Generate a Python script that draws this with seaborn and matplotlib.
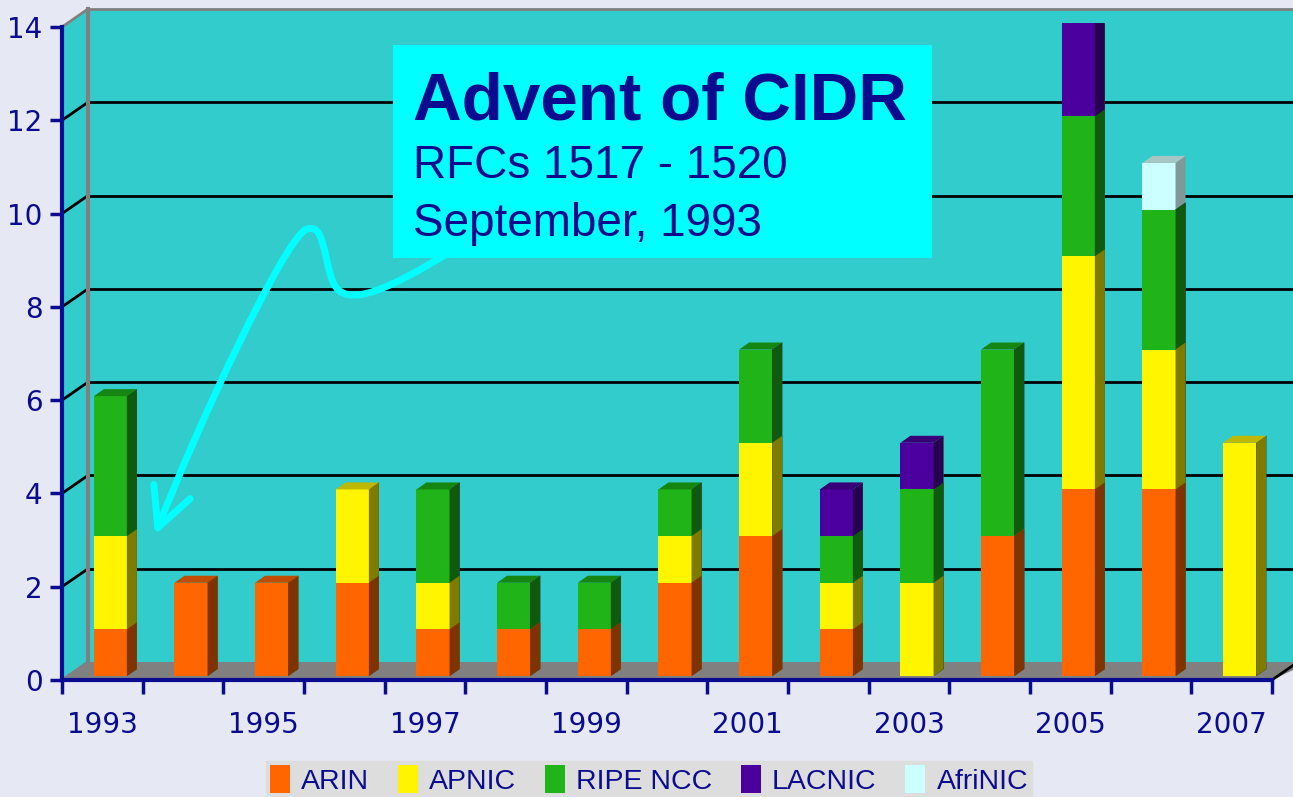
import numpy as np
import pandas as pd
import matplotlib
matplotlib.use("Agg")
import matplotlib.pyplot as plt
import seaborn as sns
from matplotlib.patches import Polygon, Rectangle, FancyArrowPatch, Patch
from matplotlib.path import Path
from matplotlib.lines import Line2D

# --- DATA ---
years = [str(y) for y in range(1993, 2008)]
registries = ["ARIN", "APNIC", "RIPE NCC", "LACNIC", "AfriNIC"]
arin    = [1, 2, 2, 2, 1, 1, 1, 2, 3, 1, 0, 3, 4, 4, 0]
apnic   = [2, 0, 0, 2, 1, 0, 0, 1, 2, 1, 2, 0, 5, 3, 5]
ripe    = [3, 0, 0, 0, 2, 1, 1, 1, 2, 1, 2, 4, 3, 3, 0]
lacnic  = [0, 0, 0, 0, 0, 0, 0, 0, 0, 1, 1, 0, 2, 0, 0]
afrinic = [0, 0, 0, 0, 0, 0, 0, 0, 0, 0, 0, 0, 0, 1, 0]
y_ticks = list(range(0, 15, 2))

# --- STYLE ---
front_col = ["#FF6600", "#FFF500", "#20B418", "#4B009E", "#CCFFFF"]
side_col  = ["#7F3300", "#7F7A00", "#0F5A0C", "#27004F", "#7F9999"]
cap_col   = ["#C04C00", "#BFB800", "#168612", "#380076", "#A6C6C6"]
navy = "#0B0B8F"
wall = "#33CCCC"

sns.set_theme(style="white")
plt.rcParams["font.family"] = ["DejaVu Sans"]

W, H = 1293, 797
fig = plt.figure(figsize=(W / 100, H / 100), dpi=100)
fig.patch.set_facecolor("#E6E9F4")


def px_axes(l, t, r, b):
    return fig.add_axes([l / W, 1 - b / H, (r - l) / W, (b - t) / H])


def fp(x, y):
    return (x / W, 1 - y / H)


# --- 3D frame: side wall, floor ---
fig.add_artist(Polygon([fp(62, 680), fp(62, 27), fp(88, 9), fp(88, 662)],
                       closed=True, facecolor=wall, edgecolor="none",
                       transform=fig.transFigure, zorder=-2))
fig.add_artist(Polygon([fp(62, 680), fp(88, 662), fp(1310, 662), fp(1272, 680)],
                       closed=True, facecolor="#808080", edgecolor="none",
                       transform=fig.transFigure, zorder=-2))
fig.add_artist(Line2D([1272 / W, 1298 / W], [1 - 680 / H, 1 - 662 / H], color="black",
                      lw=2, transform=fig.transFigure, zorder=-1))
for v in y_ticks:
    yf = 680 - v * 653 / 14
    yb = 662 - v * 653 / 14
    c = "black" if 0 < v < 14 else "#808080"
    fig.add_artist(Line2D([62 / W, 88 / W], [1 - yf / H, 1 - yb / H], color=c, lw=2,
                          transform=fig.transFigure, zorder=-1))

# --- back wall ---
ax_back = px_axes(88, 9, 1300, 662)
ax_back.set_facecolor(wall)
ax_back.set_xlim(0, 1)
ax_back.set_ylim(0, 14)
ax_back.set_xticks([])
ax_back.set_yticks(y_ticks[1:-1])
ax_back.yaxis.grid(True, color="black", lw=2)
ax_back.tick_params(length=0, labelleft=False)
for s in ["right", "bottom"]:
    ax_back.spines[s].set_visible(False)
ax_back.spines["left"].set_color("#808080")
ax_back.spines["left"].set_linewidth(3)
ax_back.spines["top"].set_color("#808080")
ax_back.spines["top"].set_linewidth(2)

# --- bars (stacked, drawn by overdrawing cumulative sums) ---
df = pd.DataFrame({"year": years, "ARIN": arin, "APNIC": apnic, "RIPE NCC": ripe,
                   "LACNIC": lacnic, "AfriNIC": afrinic})
cum = df[registries].cumsum(axis=1)
cum["year"] = years

ax_bar = px_axes(70, 23, 1280, 676)
ax_bar.set_facecolor("none")
bar_w = 0.41
dx, dy = 10 / 80.67, 7 / 46.64
for k in reversed(range(len(registries))):
    n0 = len(ax_bar.patches)
    sns.barplot(data=cum, x="year", y=registries[k], color=front_col[k], saturation=1,
                width=bar_w, linewidth=0, errorbar=None, ax=ax_bar)
    for p in list(ax_bar.patches[n0:]):
        h = p.get_height()
        if h <= 0:
            continue
        x1 = p.get_x() + p.get_width()
        ax_bar.add_patch(Polygon([(x1, 0), (x1, h), (x1 + dx, h + dy), (x1 + dx, dy)],
                                 closed=True, facecolor=side_col[k], edgecolor="none"))

totals = cum[registries[-1]].values
for i, t in enumerate(totals):
    vals = df.loc[i, registries].values
    k = max(j for j in range(len(registries)) if vals[j] > 0)
    x0, x1 = i - bar_w / 2, i + bar_w / 2
    ax_bar.add_patch(Polygon([(x0, t), (x1, t), (x1 + dx, t + dy), (x0 + dx, t + dy)],
                             closed=True, facecolor=cap_col[k], edgecolor="none"))
ax_bar.set_xlim(-0.5, 14.5)
ax_bar.set_ylim(0, 14)
ax_bar.set_axis_off()

# --- front axis ---
ax_front = px_axes(62, 27, 1272, 680)
ax_front.set_facecolor("none")
ax_front.set_xlim(-0.5, 14.5)
ax_front.set_ylim(0, 14)
ax_front.set_yticks(y_ticks)
ax_front.set_xticks(np.arange(0, 15, 2))
ax_front.set_xticklabels(years[::2])
ax_front.set_xticks(np.arange(-0.5, 15, 1), minor=True)
ax_front.tick_params(axis="x", which="major", bottom=True, length=0, pad=22, labelsize=20,
                     labelcolor=navy)
ax_front.tick_params(axis="x", which="minor", bottom=True, length=10, width=2.5, color=navy,
                     direction="out")
ax_front.tick_params(axis="y", left=True, length=9, width=2.5, color=navy, direction="out",
                     pad=5, labelsize=20, labelcolor=navy)
for s in ["top", "right"]:
    ax_front.spines[s].set_visible(False)
for s in ["left", "bottom"]:
    ax_front.spines[s].set_color(navy)
    ax_front.spines[s].set_linewidth(3)

# --- callout ---
fig.add_artist(Rectangle(fp(393, 258), 539 / W, 213 / H, facecolor="#00FFFF",
                         edgecolor="none", transform=fig.transFigure, zorder=5))
fig.text(413 / W, 1 - 120 / H, "Advent of CIDR", family="Liberation Sans", weight="bold",
         fontsize=48.5, color=navy, va="baseline", zorder=6)
fig.text(413 / W, 1 - 178 / H, "RFCs 1517 - 1520", family="Liberation Sans",
         fontsize=33, color=navy, va="baseline", zorder=6)
fig.text(413 / W, 1 - 236 / H, "September, 1993", family="Liberation Sans",
         fontsize=33, color=navy, va="baseline", zorder=6)

pts = [(445, 255), (395, 285), (345, 312), (333, 282),
       (323, 258), (325, 220), (305, 230),
       (282, 245), (200, 420), (155, 535)]
codes = [Path.MOVETO] + [Path.CURVE4] * 9
arrow = FancyArrowPatch(path=Path([fp(x, y) for x, y in pts], codes),
                        arrowstyle="->,head_length=2.0,head_width=1.0", mutation_scale=14,
                        color="#00FFFF", lw=5, transform=fig.transFigure, zorder=6)
fig.add_artist(arrow)

# --- legend ---
handles = [Patch(facecolor=c, edgecolor="none") for c in front_col]
fig.legend(handles, registries, loc="upper center", bbox_to_anchor=(649 / W, 1 - 761 / H),
           ncol=5, frameon=True, facecolor="#DDDDDD", edgecolor="#DDDDDD", framealpha=1,
           fancybox=False, prop={"family": "Liberation Sans", "size": 20.5}, labelcolor=navy,
           handlelength=0.7, handleheight=1.1, handletextpad=0.4, columnspacing=1.0,
           borderpad=0.15, borderaxespad=0)

fig.savefig("out.png", dpi=100, facecolor=fig.get_facecolor())
